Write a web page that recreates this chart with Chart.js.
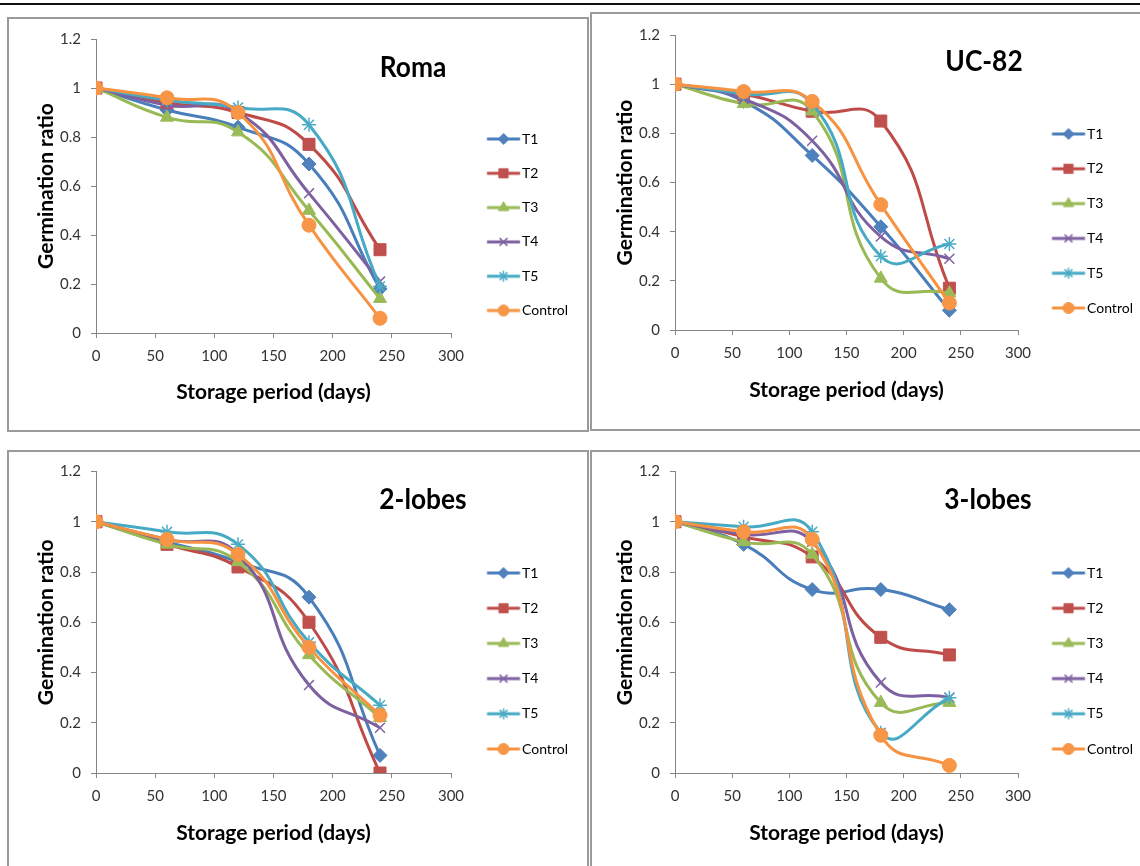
<!DOCTYPE html>
<html>
<head>
<meta charset="utf-8">
<script src="https://cdn.jsdelivr.net/npm/chart.js@4.4.1/dist/chart.umd.min.js"></script>
<style>
html,body{margin:0;padding:0;background:#fff;width:1140px;height:866px;overflow:hidden;position:relative;font-family:Lato,sans-serif}
.rule{position:absolute;left:0;top:3px;width:1140px;height:2px;background:#111}
.panel{position:absolute;border:2px solid #9a9a9a;box-sizing:border-box}
canvas{position:absolute}
.ttl{position:absolute;font-weight:bold;font-size:28px;font-family:Lato,sans-serif;color:#000;transform:translate(-50%,-50%) scale(0.94,1.05);white-space:nowrap}
</style>
</head>
<body>
<div class="rule"></div>
<div class="panel" style="left:7px;top:17px;width:582px;height:415px"></div>
<div class="panel" style="left:590px;top:12px;width:570px;height:419px"></div>
<div class="panel" style="left:7px;top:450px;width:582px;height:430px"></div>
<div class="panel" style="left:590px;top:450px;width:570px;height:430px"></div>
<canvas id="c1"></canvas>
<canvas id="c2"></canvas>
<canvas id="c3"></canvas>
<canvas id="c4"></canvas>
<div class="ttl" id="t1"></div>
<div class="ttl" id="t2"></div>
<div class="ttl" id="t3"></div>
<div class="ttl" id="t4"></div>
<script>
// ---------- DATA ----------
const days = [0, 60, 120, 180, 240];
const seriesNames = ['T1', 'T2', 'T3', 'T4', 'T5', 'Control'];
const panelTitles = ['Roma', 'UC-82', '2-lobes', '3-lobes'];
const xAxisTitle = 'Storage period (days)';
const yAxisTitle = 'Germination ratio';
const xTickRange = [0, 300, 50];
const yTickRange = [0, 1.2, 0.2];

const romaValues = [
  [1, 0.91, 0.84, 0.69, 0.18],
  [1, 0.94, 0.90, 0.77, 0.34],
  [1, 0.88, 0.82, 0.50, 0.14],
  [1, 0.93, 0.90, 0.57, 0.21],
  [1, 0.95, 0.92, 0.85, 0.19],
  [1, 0.96, 0.90, 0.44, 0.06]
];
const uc82Values = [
  [1, 0.93, 0.71, 0.42, 0.08],
  [1, 0.96, 0.89, 0.85, 0.17],
  [1, 0.92, 0.89, 0.21, 0.15],
  [1, 0.94, 0.77, 0.38, 0.29],
  [1, 0.96, 0.92, 0.30, 0.35],
  [1, 0.97, 0.93, 0.51, 0.11]
];
const twoLobesValues = [
  [1, 0.92, 0.84, 0.70, 0.07],
  [1, 0.91, 0.82, 0.60, 0.00],
  [1, 0.91, 0.84, 0.47, 0.22],
  [1, 0.93, 0.87, 0.35, 0.18],
  [1, 0.96, 0.91, 0.52, 0.27],
  [1, 0.93, 0.87, 0.50, 0.23]
];
const threeLobesValues = [
  [1, 0.91, 0.73, 0.73, 0.65],
  [1, 0.94, 0.86, 0.54, 0.47],
  [1, 0.92, 0.87, 0.28, 0.28],
  [1, 0.95, 0.92, 0.36, 0.30],
  [1, 0.98, 0.96, 0.16, 0.30],
  [1, 0.96, 0.93, 0.15, 0.03]
];

// ---------- STYLE ----------
const lineColors = ['#4A7EBB', '#BE4B48', '#98B954', '#7D60A0', '#46AAC5', '#F69240'];
const markerColors = ['#4F81BD', '#C0504D', '#9BBB59', '#8064A2', '#4BACC6', '#F79646'];
const markerStyles = ['rectRot', 'rect', 'triangle', 'crossRot', 'star', 'circle'];
const markerRadius = [7, 8.5, 7.5, 7, 7, 7];
const markerBorder = [1, 1, 1, 1.5, 1.5, 1];
const legendRadius = [5.5, 6.5, 6, 5.5, 5.5, 5.5];
const FONT = 'Lato';
const TITLE_SIZE = 21;
const TITLE_LH = TITLE_SIZE * 1.2;
const TICK_SIZE = 15;
const LEG_SIZE = 14;

const panels = [
  {id: 'c1', tid: 't1', values: romaValues, cx: 8, cy: 18, W: 580, H: 413, plotL: 96, plotR: 451, plotT: 39, plotB: 333,
   yTitleX: 46, xTitleY: 392, legRow1: 139, legSpacing: 34.3, legLineX: 487, tx: 413, ty: 65},
  {id: 'c2', tid: 't2', values: uc82Values, cx: 592, cy: 13, W: 560, H: 417, plotL: 675, plotR: 1018, plotT: 35, plotB: 330,
   yTitleX: 625, xTitleY: 390, legRow1: 134, legSpacing: 34.8, legLineX: 1052, tx: 984, ty: 59},
  {id: 'c3', tid: 't3', values: twoLobesValues, cx: 8, cy: 452, W: 580, H: 414, plotL: 96, plotR: 451, plotT: 471.5, plotB: 773,
   yTitleX: 46, xTitleY: 833, legRow1: 573, legSpacing: 35.2, legLineX: 487, tx: 423, ty: 497},
  {id: 'c4', tid: 't4', values: threeLobesValues, cx: 592, cy: 452, W: 560, H: 414, plotL: 675, plotR: 1018, plotT: 471.5, plotB: 773,
   yTitleX: 625, xTitleY: 833, legRow1: 573, legSpacing: 35.2, legLineX: 1052, tx: 988, ty: 497}
];

function drawMarker(g, i, r, x, y) {
  g.fillStyle = markerColors[i];
  g.strokeStyle = markerColors[i];
  g.lineWidth = markerBorder[i];
  Chart.helpers.drawPoint(g, {pointStyle: markerStyles[i], radius: r, borderWidth: markerBorder[i], rotation: 0}, x, y);
}

function legendImage(i, center, lineStart) {
  const half = Math.ceil(Math.max(center - lineStart, lineStart + 33 - center)) + 2;
  const w = half * 2, h = 18;
  const cv = document.createElement('canvas');
  cv.width = w; cv.height = h;
  const g = cv.getContext('2d');
  const off = lineStart - (center - half);
  g.strokeStyle = lineColors[i];
  g.lineWidth = 3;
  g.beginPath(); g.moveTo(off, h / 2); g.lineTo(off + 33, h / 2); g.stroke();
  drawMarker(g, i, legendRadius[i], off + 16.5, h / 2);
  return cv;
}

function build(p, idx) {
  const canvas = document.getElementById(p.id);
  canvas.width = p.W; canvas.height = p.H;
  canvas.style.left = p.cx + 'px'; canvas.style.top = p.cy + 'px';
  canvas.style.width = p.W + 'px'; canvas.style.height = p.H + 'px';

  const t = document.getElementById(p.tid);
  t.textContent = panelTitles[idx];
  t.style.left = p.tx + 'px'; t.style.top = p.ty + 'px';

  const pL = p.plotL - p.cx, pR = p.plotR - p.cx, pT = p.plotT - p.cy, pB = p.plotB - p.cy;
  const padL = (p.yTitleX - p.cx) - TITLE_LH / 2;
  const yW = pL - padL;
  const lp = p.legSpacing - LEG_SIZE;
  const legendBottom = 2 * (p.legRow1 - p.cy - LEG_SIZE / 2) - pT - lp + 6 * p.legSpacing;
  const padB = p.H - legendBottom;
  const xH = legendBottom - pB;
  const tpb = Math.max(0, legendBottom - TITLE_LH / 2 - (p.xTitleY - p.cy));
  const itemX = pR + lp;
  const L = p.legLineX - p.cx;
  const P = L + 28 - itemX;
  const mctx = document.createElement('canvas').getContext('2d');
  mctx.font = LEG_SIZE + 'px ' + FONT;
  let tw = 0;
  seriesNames.forEach(n => { tw = Math.max(tw, mctx.measureText(n).width); });
  const legendW = lp + P + LEG_SIZE / 2 + tw + 10;
  const padR = p.W - pR - legendW;
  const imgs = seriesNames.map((n, i) => legendImage(i, itemX + P / 2, L));

  const datasets = seriesNames.map((name, i) => ({
    label: name,
    data: days.map((d, j) => ({x: d, y: p.values[i][j]})),
    borderColor: lineColors[i],
    backgroundColor: markerColors[i],
    borderWidth: 3,
    pointStyle: markerStyles[i],
    pointRadius: markerRadius[i],
    pointBackgroundColor: markerColors[i],
    pointBorderColor: markerColors[i],
    pointBorderWidth: markerBorder[i],
    tension: 0.5,
    fill: false,
    order: seriesNames.length - i
  }));

  const tickFont = {family: FONT, size: TICK_SIZE};
  const titleFont = {family: FONT, size: TITLE_SIZE, weight: 'bold'};
  const gridCfg = {drawOnChartArea: false, drawTicks: true, tickLength: 5, color: '#868686'};
  const borderCfg = {color: '#868686', width: 1};

  new Chart(canvas, {
    type: 'line',
    data: {datasets},
    options: {
      responsive: false,
      animation: false,
      devicePixelRatio: 1,
      layout: {padding: {left: padL, right: padR, top: pT, bottom: padB}},
      scales: {
        x: {
          type: 'linear', min: xTickRange[0], max: xTickRange[1],
          ticks: {stepSize: xTickRange[2], padding: 9, font: tickFont, color: '#333', maxRotation: 0, autoSkip: false},
          grid: gridCfg, border: borderCfg,
          title: {display: true, text: xAxisTitle, font: titleFont, color: '#000', padding: {top: 0, bottom: tpb}},
          afterFit: s => { s.height = xH; }
        },
        y: {
          type: 'linear', min: yTickRange[0], max: yTickRange[1],
          ticks: {stepSize: yTickRange[2], padding: 10, font: tickFont, color: '#333',
                  callback: v => String(+Number(v).toFixed(1))},
          grid: gridCfg, border: borderCfg,
          title: {display: true, text: yAxisTitle, font: titleFont, color: '#000', padding: {top: 0, bottom: 0}},
          afterFit: s => { s.width = yW; }
        }
      },
      plugins: {
        tooltip: {enabled: false},
        legend: {
          position: 'right', align: 'center',
          labels: {
            usePointStyle: true, pointStyleWidth: P, padding: lp,
            font: {family: FONT, size: LEG_SIZE}, color: '#262626',
            generateLabels: () => seriesNames.map((n, i) => ({
              text: n, pointStyle: imgs[i], datasetIndex: i, hidden: false,
              fillStyle: 'rgba(0,0,0,0)', strokeStyle: 'rgba(0,0,0,0)', lineWidth: 0, rotation: 0
            }))
          }
        }
      }
    }
  });
}

function start() { panels.forEach(build); }
if (document.fonts && document.fonts.load) {
  Promise.all([document.fonts.load('14px Lato'), document.fonts.load('bold 21px Lato'), document.fonts.load('bold 28px Lato')])
    .then(start, start);
} else { start(); }
</script>
</body>
</html>
